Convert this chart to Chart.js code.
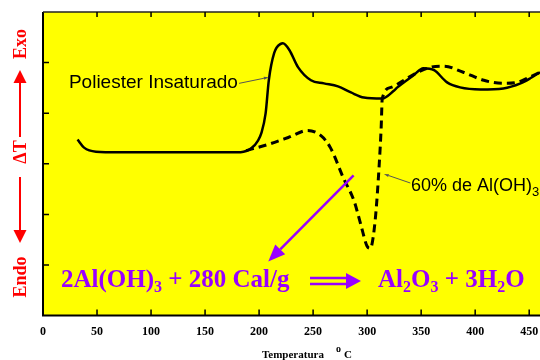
<!DOCTYPE html>
<html>
<head>
<meta charset="utf-8">
<script src="https://cdn.jsdelivr.net/npm/chart.js@4.4.1/dist/chart.umd.min.js"></script>
<style>
  html, body { margin: 0; padding: 0; background: #fff; }
  #wrap { width: 540px; height: 360px; }
</style>
</head>
<body>
<div id="wrap"><canvas id="myChart" width="540" height="360"></canvas></div>
<script>
// temperature (C) and deltaT readings
var poliTemp = [32, 38, 49, 70, 120, 160, 183, 193, 199, 202, 206, 209, 214, 220, 222, 228, 236, 248, 260, 273, 285, 297, 314, 325, 328, 343, 352, 362, 374, 386, 405, 426, 442, 451, 460];
var poliDT   = [3.48, 3.32, 3.24, 3.23, 3.23, 3.23, 3.23, 3.31, 3.46, 3.60, 3.99, 4.65, 5.19, 5.37, 5.38, 5.25, 4.91, 4.65, 4.59, 4.53, 4.41, 4.31, 4.29, 4.45, 4.51, 4.75, 4.89, 4.85, 4.61, 4.51, 4.47, 4.49, 4.59, 4.69, 4.81];

var alohTemp = [188, 208, 227, 245, 257, 266, 278, 288, 294, 300, 303, 305, 308, 311, 313, 314, 322, 334, 347, 359, 371, 389, 408, 426, 439, 448, 460];
var alohDT   = [3.26, 3.38, 3.52, 3.66, 3.56, 3.32, 2.72, 2.26, 1.81, 1.37, 1.33, 1.47, 2.01, 2.92, 3.72, 4.29, 4.51, 4.65, 4.81, 4.91, 4.93, 4.81, 4.65, 4.59, 4.61, 4.69, 4.81];

var xTicks = [0, 50, 100, 150, 200, 250, 300, 350, 400, 450];
var yTicks = [1, 2, 3, 4, 5];

function toPoints(xs, ys) {
  return xs.map(function(x, i) { return { x: x, y: ys[i] }; });
}

function arrow(ctx, x1, y1, x2, y2, color, lw, headLen, headW) {
  var a = Math.atan2(y2 - y1, x2 - x1);
  var bx = x2 - Math.cos(a) * headLen, by = y2 - Math.sin(a) * headLen;
  ctx.save();
  ctx.strokeStyle = color; ctx.fillStyle = color; ctx.lineWidth = lw;
  ctx.beginPath(); ctx.moveTo(x1, y1); ctx.lineTo(bx, by); ctx.stroke();
  ctx.beginPath();
  ctx.moveTo(x2, y2);
  ctx.lineTo(bx + Math.sin(a) * headW / 2, by - Math.cos(a) * headW / 2);
  ctx.lineTo(bx - Math.sin(a) * headW / 2, by + Math.cos(a) * headW / 2);
  ctx.closePath(); ctx.fill();
  ctx.restore();
}

// parts: [text, isSubscript]
function richText(ctx, parts, x, y, font, subFont, subDy) {
  parts.forEach(function(p) {
    ctx.font = p[1] ? subFont : font;
    ctx.fillText(p[0], x, y + (p[1] ? subDy : 0));
    x += ctx.measureText(p[0]).width;
  });
  return x;
}

var deco = {
  id: 'deco',
  beforeDraw: function(chart) {
    var c = chart.ctx, a = chart.chartArea;
    c.save();
    c.fillStyle = '#ffff00';
    c.fillRect(a.left, a.top, a.right - a.left, a.bottom - a.top);
    c.restore();
  },
  afterDraw: function(chart) {
    var c = chart.ctx, a = chart.chartArea;
    var xs = chart.scales.x, ys = chart.scales.y;
    function P(x, y) { return [xs.getPixelForValue(x), ys.getPixelForValue(y)]; }

    c.save();
    // frame
    c.strokeStyle = '#000';
    c.lineWidth = 2;
    c.beginPath();
    c.moveTo(a.left, a.top); c.lineTo(a.left, a.bottom); c.lineTo(a.right, a.bottom);
    c.stroke();
    c.lineWidth = 1.5;
    c.strokeStyle = '#222';
    c.beginPath(); c.moveTo(a.left, a.top); c.lineTo(a.right, a.top); c.stroke();

    // inward ticks
    c.lineWidth = 1.5;
    c.strokeStyle = '#000';
    c.beginPath();
    xTicks.forEach(function(t) {
      var px = xs.getPixelForValue(t);
      if (t === 0) return;
      c.moveTo(px, a.bottom); c.lineTo(px, a.bottom - 6);
      c.moveTo(px, a.top); c.lineTo(px, a.top + 5);
    });
    yTicks.forEach(function(t) {
      var py = ys.getPixelForValue(t);
      c.moveTo(a.left, py); c.lineTo(a.left + 6, py);
    });
    c.stroke();

    // axis title
    c.fillStyle = '#000';
    c.textBaseline = 'alphabetic';
    c.font = 'bold 11px "Liberation Serif"';
    c.fillText('Temperatura', 262, 358);
    c.font = 'bold 10px "Liberation Serif"';
    c.fillText('o', 336, 352);
    c.font = 'bold 11px "Liberation Serif"';
    c.fillText('C', 344, 358);

    // curve labels with leader lines
    c.font = '19px "Liberation Sans"';
    var p = P(24, 4.49);
    c.fillText('Poliester Insaturado', p[0], p[1]);
    var l1 = P(181.5, 4.59), l2 = P(209, 4.71);
    arrow(c, l1[0], l1[1], l2[0], l2[1], '#555', 1, 5, 3);

    p = P(340.5, 2.46);
    richText(c, [['60% de Al(OH)', false], ['3', true]], p[0], p[1],
      '18px "Liberation Sans"', '13px "Liberation Sans"', 5);
    l1 = P(340, 2.62); l2 = P(315.5, 2.80);
    arrow(c, l1[0], l1[1], l2[0], l2[1], '#555', 1, 5, 3);

    // purple reaction arrow
    var purple = '#9900ff';
    var q1 = P(287.5, 2.77), q2 = P(208.5, 1.07);
    arrow(c, q1[0], q1[1], q2[0], q2[1], purple, 2.5, 17, 14);

    // reaction text
    c.fillStyle = purple;
    var big = 'bold 25px "Liberation Serif"', small = 'bold 16px "Liberation Serif"';
    richText(c, [['2Al(OH)', false], ['3', true], [' + 280 Cal/g', false]], 61, 287, big, small, 5);
    // double arrow
    c.strokeStyle = purple; c.lineWidth = 2.5;
    c.beginPath();
    c.moveTo(310, 278); c.lineTo(350, 278);
    c.moveTo(310, 284); c.lineTo(350, 284);
    c.stroke();
    c.beginPath();
    c.moveTo(361, 281); c.lineTo(346, 273); c.lineTo(346, 289); c.closePath(); c.fill();
    richText(c, [['Al', false], ['2', true], ['O', false], ['3', true], [' + 3H', false], ['2', true], ['O', false]], 378, 287, big, small, 5);

    // left side Exo / deltaT / Endo
    var red = '#ff0000';
    c.fillStyle = red;
    c.font = 'bold 18px "Liberation Serif"';
    c.textAlign = 'center';
    c.textBaseline = 'middle';
    [['Exo', 44], ['\u0394T', 152], ['Endo', 277]].forEach(function(t) {
      c.save();
      c.translate(21, t[1]);
      c.rotate(-Math.PI / 2);
      c.fillText(t[0], 0, 0);
      c.restore();
    });
    arrow(c, 20, 137, 20, 70, red, 2, 13, 13);
    arrow(c, 20, 177, 20, 243, red, 2, 13, 13);
    c.restore();
  }
};

var ctx = document.getElementById('myChart').getContext('2d');

var myChart = new Chart(ctx, {
  type: 'line',
  data: {
    datasets: [
      {
        label: 'Poliester Insaturado',
        data: toPoints(poliTemp, poliDT),
        borderColor: '#000',
        borderWidth: 2.5,
        pointRadius: 0,
        fill: false,
        cubicInterpolationMode: 'monotone'
      }, {
        label: '60% de Al(OH)3',
        data: toPoints(alohTemp, alohDT),
        borderColor: '#000',
        borderWidth: 3,
        borderDash: [8, 5],
        pointRadius: 0,
        fill: false,
        cubicInterpolationMode: 'monotone'
      }
    ]
  },
  options: {
    responsive: false,
    animation: false,
    layout: { padding: { left: 43, top: 12, right: 0, bottom: 20 } },
    plugins: { legend: { display: false }, tooltip: { enabled: false } },
    scales: {
      x: {
        type: 'linear',
        min: 0,
        max: 460,
        grid: { display: false },
        border: { display: false },
        afterFit: function(scale) { scale.paddingLeft = 0; scale.paddingRight = 0; },
        ticks: {
          stepSize: 50,
          includeBounds: false,
          padding: 1,
          color: '#000',
          maxRotation: 0,
          font: { family: '"Liberation Serif"', size: 12, weight: 'bold' }
        }
      },
      y: {
        display: false,
        min: 0,
        max: 6
      }
    }
  },
  plugins: [deco]
});
</script>
</body>
</html>
